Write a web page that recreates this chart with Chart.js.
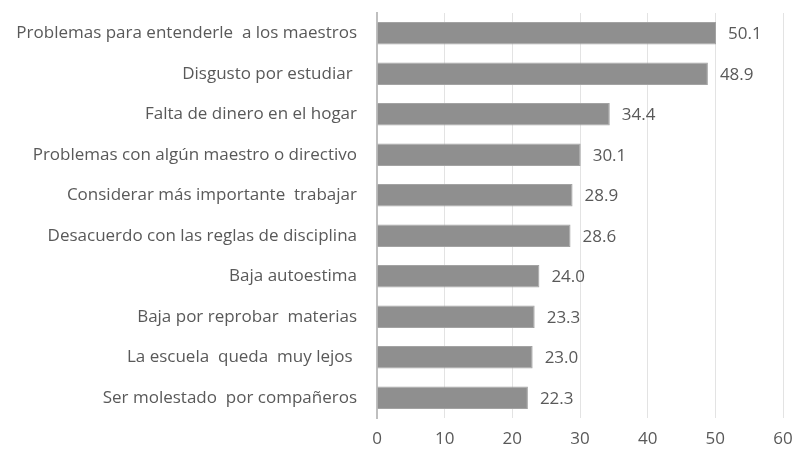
<!DOCTYPE html>
<html>
<head>
<meta charset="utf-8">
<script src="https://cdn.jsdelivr.net/npm/chart.js@4/dist/chart.umd.min.js"></script>
<style>
html,body{margin:0;padding:0;background:#fff;}
#wrap{width:796px;height:453px;position:relative;}
</style>
</head>
<body>
<div id="wrap"><canvas id="c" width="796" height="453"></canvas></div>
<script>
const categories = [
  "Problemas para entenderle  a los maestros",
  "Disgusto por estudiar ",
  "Falta de dinero en el hogar",
  "Problemas con algún maestro o directivo",
  "Considerar más importante  trabajar",
  "Desacuerdo con las reglas de disciplina",
  "Baja autoestima",
  "Baja por reprobar  materias",
  "La escuela  queda  muy lejos ",
  "Ser molestado  por compañeros"
];
const values = [50.1, 48.9, 34.4, 30.1, 28.9, 28.6, 24.0, 23.3, 23.0, 22.3];
const xTicks = [0, 10, 20, 30, 40, 50, 60];

const FONT = "'Open Sans', 'Noto Sans', sans-serif";
const TEXT = '#595959';
const FS = 17;

const valueLabels = {
  id: 'valueLabels',
  afterDatasetsDraw(chart) {
    const ctx = chart.ctx;
    const meta = chart.getDatasetMeta(0);
    ctx.save();
    ctx.font = FS + 'px ' + FONT;
    ctx.fillStyle = TEXT;
    ctx.textAlign = 'left';
    ctx.textBaseline = 'middle';
    meta.data.forEach((bar, i) => {
      ctx.fillText(values[i].toFixed(1), bar.x + 12, bar.y + 1);
    });
    ctx.restore();
  }
};

new Chart(document.getElementById('c'), {
  type: 'bar',
  data: {
    labels: categories,
    datasets: [{
      data: values,
      backgroundColor: '#8f8f8f',
      borderColor: '#a3a3a3',
      borderWidth: 1,
      barPercentage: 0.55,
      categoryPercentage: 1.0
    }]
  },
  options: {
    indexAxis: 'y',
    responsive: false,
    animation: false,
    devicePixelRatio: 1,
    layout: { padding: { top: 13, right: 13, left: 0, bottom: 0 } },
    plugins: { legend: { display: false }, tooltip: { enabled: false } },
    scales: {
      x: {
        min: 0, max: 60,
        afterBuildTicks(scale) { scale.ticks = xTicks.map(v => ({ value: v })); },
        afterFit(scale) {
          scale.height = 35;
          scale.paddingLeft = 0; scale.paddingRight = 0;
          scale.paddingTop = 0; scale.paddingBottom = 0;
        },
        grid: { color: '#e3e3e3', lineWidth: 1, drawTicks: false },
        border: { display: false },
        ticks: { color: TEXT, font: { family: FONT, size: FS }, padding: 11 }
      },
      y: {
        afterFit(scale) {
          scale.width = 377;
          scale.paddingLeft = 0; scale.paddingRight = 0;
          scale.paddingTop = 0; scale.paddingBottom = 0;
        },
        grid: { display: false, drawTicks: false },
        border: { display: true, color: '#bfbfbf', width: 2 },
        ticks: { color: TEXT, font: { family: FONT, size: FS }, padding: 20, autoSkip: false }
      }
    }
  },
  plugins: [valueLabels]
});
</script>
</body>
</html>
